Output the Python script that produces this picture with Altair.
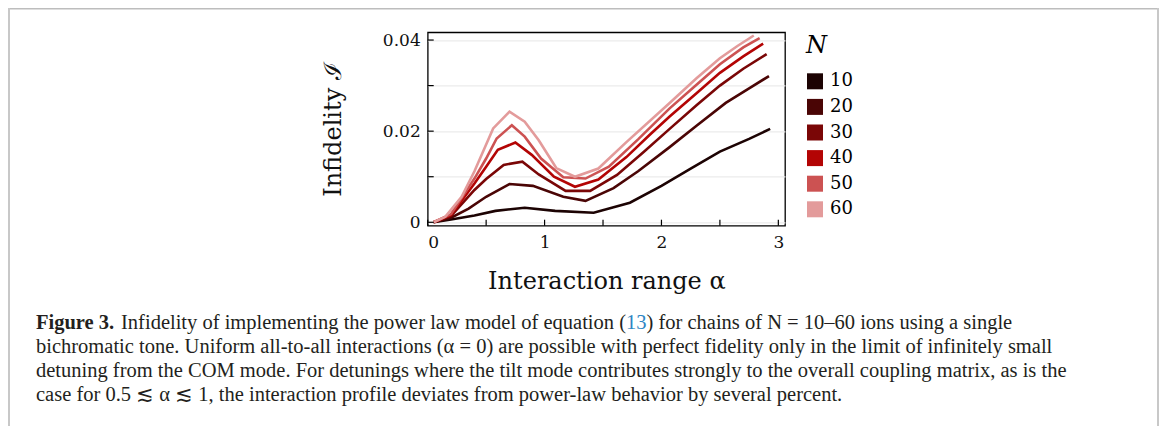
import altair as alt
import pandas as pd

# ---------------- data ----------------
n_labels = ["10", "20", "30", "40", "50", "60"]
n_colors = ["#1c0303", "#4a0505", "#7a0606", "#b30404", "#cc5252", "#e39b9b"]

alpha_10 = [0.05, 0.2, 0.4, 0.58, 0.83, 1.09, 1.42, 1.73, 2.0, 2.25, 2.5, 2.75, 2.93]
infid_10 = [0.0, 0.0006, 0.0015, 0.0025, 0.0032, 0.0025, 0.0021, 0.0043, 0.0080, 0.0118, 0.0155, 0.0183, 0.0205]

alpha_20 = [0.05, 0.2, 0.35, 0.5, 0.70, 0.90, 1.16, 1.35, 1.59, 1.8, 2.07, 2.3, 2.55, 2.75, 2.92]
infid_20 = [0.0, 0.0010, 0.0030, 0.0056, 0.0084, 0.0080, 0.0056, 0.0047, 0.0075, 0.0112, 0.0165, 0.0212, 0.0262, 0.0294, 0.0321]

alpha_30 = [0.05, 0.2, 0.4, 0.5, 0.65, 0.81, 0.95, 1.18, 1.39, 1.62, 1.85, 2.07, 2.3, 2.5, 2.7, 2.9]
infid_30 = [0.0, 0.0014, 0.0071, 0.0095, 0.0126, 0.0133, 0.0105, 0.0069, 0.0069, 0.0104, 0.0155, 0.0205, 0.0257, 0.0300, 0.0337, 0.0369]

alpha_40 = [0.05, 0.2, 0.4, 0.5, 0.60, 0.75, 0.89, 1.08, 1.26, 1.46, 1.7, 1.9, 2.07, 2.3, 2.5, 2.7, 2.87]
infid_40 = [0.0, 0.0016, 0.0085, 0.0122, 0.0159, 0.0175, 0.0148, 0.0100, 0.0078, 0.0094, 0.0143, 0.0192, 0.0232, 0.0283, 0.0328, 0.0364, 0.0392]

alpha_50 = [0.05, 0.2, 0.4, 0.5, 0.59, 0.72, 0.83, 0.97, 1.16, 1.35, 1.55, 1.8, 2.07, 2.3, 2.5, 2.7, 2.84]
infid_50 = [0.0, 0.0018, 0.0096, 0.0140, 0.0184, 0.0213, 0.0188, 0.0140, 0.0099, 0.0096, 0.0122, 0.0182, 0.0250, 0.0302, 0.0347, 0.0384, 0.0404]

alpha_60 = [0.05, 0.15, 0.29, 0.4, 0.56, 0.70, 0.83, 0.95, 1.10, 1.26, 1.46, 1.7, 2.07, 2.3, 2.5, 2.65, 2.79]
infid_60 = [0.0, 0.0012, 0.0056, 0.0112, 0.0206, 0.0243, 0.0221, 0.0180, 0.0119, 0.0100, 0.0118, 0.0176, 0.0262, 0.0316, 0.0360, 0.0387, 0.0410]

x_tick_values = [0, 0.5, 1, 1.5, 2, 2.5, 3]
x_label_values = [0, 1, 2, 3]
y_tick_values = [0, 0.01, 0.02, 0.03, 0.04]

caption_bold = "Figure 3."
caption_1a = "Infidelity of implementing the power law model of equation ("
caption_1b = "13"
caption_1c = ") for chains of N = 10\u201360 ions using a single"
caption_2 = "bichromatic tone. Uniform all-to-all interactions (\u03b1 = 0) are possible with perfect fidelity only in the limit of infinitely small"
caption_3 = "detuning from the COM mode. For detunings where the tilt mode contributes strongly to the overall coupling matrix, as is the"
caption_4 = "case for 0.5 \u2272 \u03b1 \u2272 1, the interaction profile deviates from power-law behavior by several percent."

# ---------------- table ----------------
series = [
    ("10", alpha_10, infid_10), ("20", alpha_20, infid_20), ("30", alpha_30, infid_30),
    ("40", alpha_40, infid_40), ("50", alpha_50, infid_50), ("60", alpha_60, infid_60),
]
rows = []
for n, xs, ys in series:
    for i, (a, v) in enumerate(zip(xs, ys)):
        rows.append({"N": n, "alpha": a, "infid": v, "order": i})
df = pd.DataFrame(rows)

W, H = 357.3, 193.4
PAD_L, PAD_T = 419.7, 24.3
PAD_R = 1151 - PAD_L - W
PAD_B = 418 - PAD_T - H

xscale = alt.Scale(domain=[0, 3.057], nice=False, zero=False)
yscale = alt.Scale(domain=[-0.00075, 0.0417], nice=False, zero=False)
cscale = alt.Scale(domain=n_labels, range=n_colors)

SERIF = "DejaVu Serif"
CAP = "Liberation Serif"
CAP_SIZE = 20.5

x_enc = alt.X("alpha:Q", scale=xscale, axis=alt.Axis(
    values=x_label_values, format="d", title="Interaction range \u03b1", ticks=False, tickSize=0,
    domain=False, grid=False, labelPadding=9, titlePadding=19,
    labelAlign=alt.ExprRef(expr="datum.value == 0 ? 'left' : 'center'"),
))
y_enc = alt.Y("infid:Q", scale=yscale, axis=alt.Axis(
    values=y_tick_values, title="Infidelity \u2110", ticks=False, tickSize=0,
    domain=False, grid=True, gridColor="#ebebeb", gridWidth=1.2, labelPadding=7.5,
    titlePadding=37,
    labelExpr="abs(round(datum.value*100)) % 2 == 0 ? (datum.value == 0 ? '0' : format(datum.value, '.2f')) : ''",
))

# invisible squares that carry the (filled square) legend
legend_keys = alt.Chart(df).mark_square(opacity=0, size=4).encode(
    x=x_enc, y=y_enc,
    color=alt.Color("N:N", scale=cscale, legend=alt.Legend(
        title="N", orient="none", legendX=378.3, legendY=2, padding=0,
        titleFont=SERIF, titleFontSize=24, titleFontStyle="italic", titleFontWeight="normal",
        titlePadding=14, titleColor="black",
        labelFont=SERIF, labelFontSize=18, labelColor="black", labelOffset=6,
        symbolType="square", symbolSize=256, symbolStrokeWidth=0, symbolOpacity=1,
        rowPadding=7.6,
    )),
)

lines = alt.Chart(df).mark_line(strokeWidth=2.6, strokeCap="butt", strokeJoin="miter").encode(
    x=x_enc, y=y_enc,
    color=alt.Color("N:N", scale=cscale, legend=None),
    order="order:Q",
)

xticks = alt.Chart(pd.DataFrame({"t": x_tick_values})).mark_rule(color="black", strokeWidth=1.2).encode(
    x=alt.X("t:Q", scale=xscale), y=alt.value(H), y2=alt.value(H - 6)
)
yticks = alt.Chart(pd.DataFrame({"t": y_tick_values})).mark_rule(color="black", strokeWidth=1.2).encode(
    y=alt.Y("t:Q", scale=yscale), x=alt.value(0), x2=alt.value(6)
)


def px(page_x):
    return page_x - (PAD_L + 8)


def py(page_y):
    return page_y - (PAD_T + 8)


def cap_text(text, x, y, align="left", weight="normal", color="#231f20"):
    return alt.Chart(pd.DataFrame({"t": [text]})).mark_text(
        font=CAP, fontSize=CAP_SIZE, align=align, baseline="middle", fontWeight=weight, color=color
    ).encode(text="t:N", x=alt.value(px(x)), y=alt.value(py(y)))


X13 = 626
captions = [
    cap_text(caption_bold, 36, 323, weight="bold"),
    cap_text(caption_1a, X13, 323, align="right"),
    cap_text(caption_1b, X13, 323, color="#2f86c3"),
    cap_text(caption_1c, X13 + CAP_SIZE, 323),
    cap_text(caption_2, 36, 347),
    cap_text(caption_3, 36, 371),
    cap_text(caption_4, 36, 395),
]

one = pd.DataFrame({"k": [0]})
border_top = alt.Chart(one).mark_rule(color="#bdbdbd", strokeWidth=1.5).encode(
    x=alt.value(px(8)), x2=alt.value(px(1158)), y=alt.value(py(8.75))
)
border_left = alt.Chart(one).mark_rule(color="#c8c8c8", strokeWidth=2).encode(
    x=alt.value(px(9)), y=alt.value(py(8)), y2=alt.value(py(440))
)
border_right = alt.Chart(one).mark_rule(color="#c8c8c8", strokeWidth=2).encode(
    x=alt.value(px(1158)), y=alt.value(py(8)), y2=alt.value(py(440))
)

chart = alt.layer(
    legend_keys, lines, xticks, yticks, border_top, border_left, border_right, *captions
).properties(
    width=W, height=H,
    autosize=alt.AutoSizeParams(type="none"),
    padding={"left": PAD_L, "top": PAD_T, "right": PAD_R, "bottom": PAD_B},
    background="white",
).configure_view(
    stroke="black", strokeWidth=1.3
).configure_axis(
    labelFont=SERIF, labelFontSize=17, labelColor="#111", titleFont=SERIF, titleFontSize=24,
    titleFontWeight="normal", titleColor="#111",
)

chart.save("out.html", embed_options={"renderer": "svg", "actions": False})
